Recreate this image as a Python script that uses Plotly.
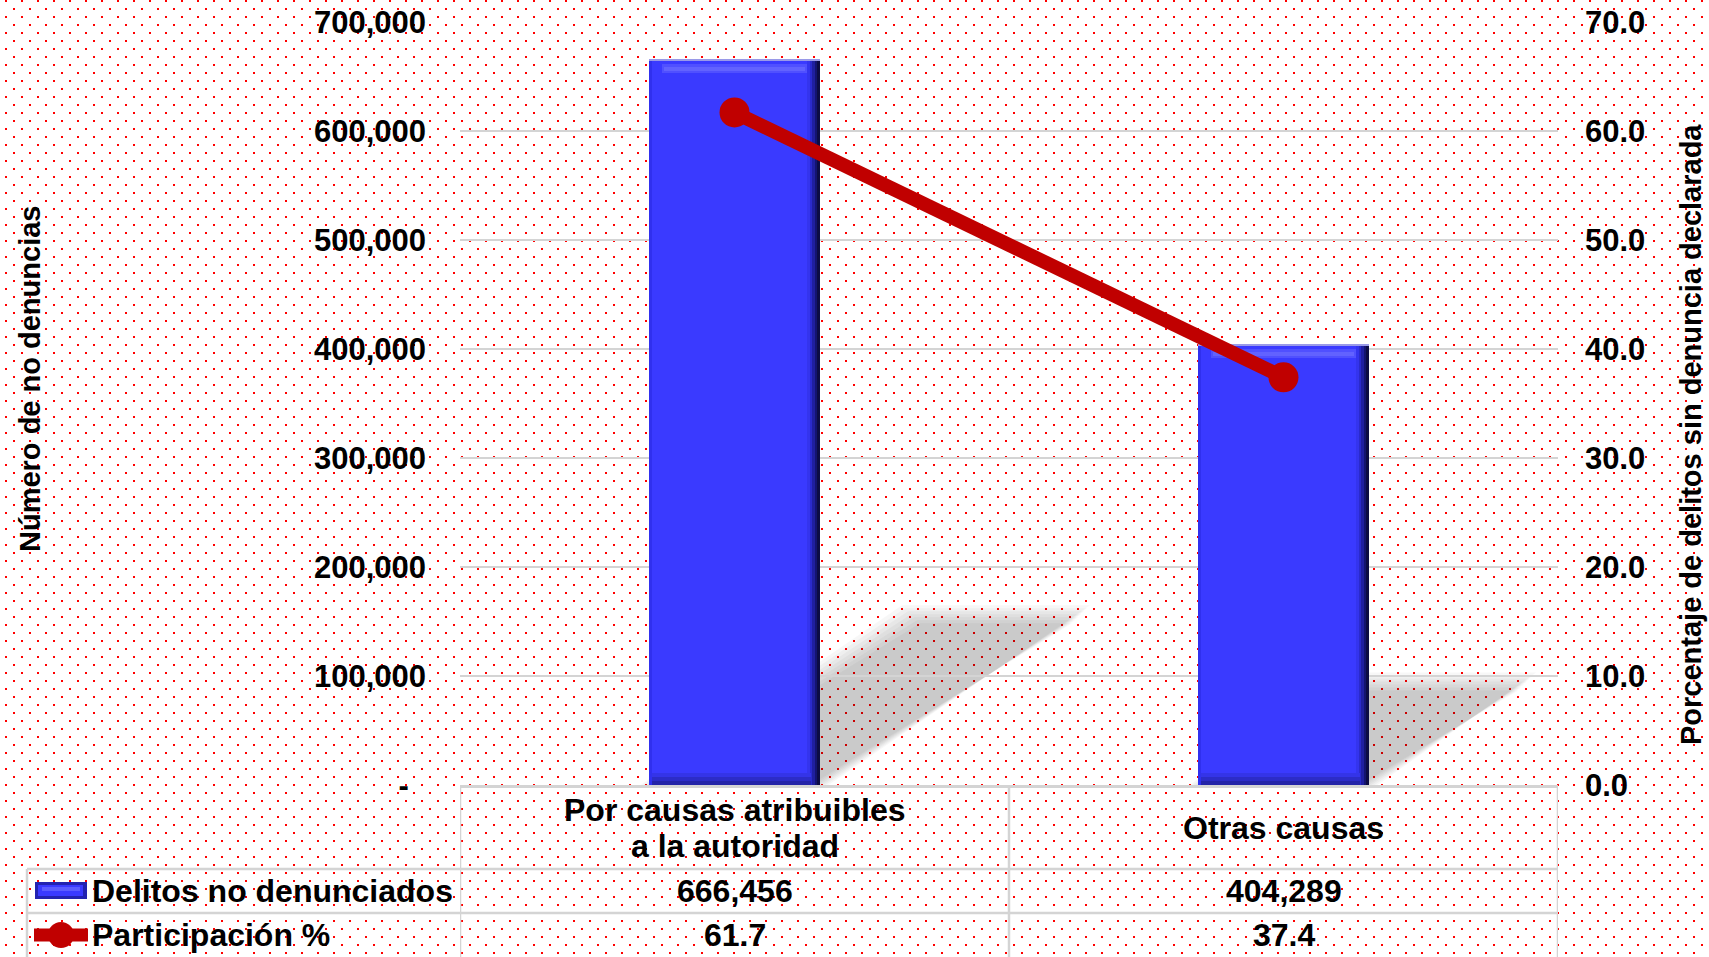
import base64
import plotly.graph_objects as go

# ---------------- data ----------------
categories = ["Por causas atribuibles<br>a la autoridad", "Otras causas"]
delitos = [666456, 404289]
participacion = [61.7, 37.4]
left_tickvals = [0, 100000, 200000, 300000, 400000, 500000, 600000, 700000]
left_ticktext = ["-\u00a0\u00a0", "100,000", "200,000", "300,000", "400,000", "500,000", "600,000", "700,000"]
right_tickvals = [0, 10, 20, 30, 40, 50, 60, 70]
right_ticktext = ["0.0", "10.0", "20.0", "30.0", "40.0", "50.0", "60.0", "70.0"]
series_names = ["Delitos no denunciados", "Participación %"]
y_title_left = "Número de no denuncias"
y_title_right = "Porcentaje de delitos sin denuncia declarada"

# ---------------- layout geometry ----------------
W, H = 1709, 957
ML, MR, MT, MB = 460, 151, 22, 172
PW, PH = W - ML - MR, H - MT - MB
YMAX, Y2MAX = 700000, 70
XR = (-0.5, 1.5)
FONT = "Liberation Sans"

def px(xpix):  # figure pixel -> paper x
    return (xpix - ML) / PW

def py(ypix):  # figure pixel -> paper y
    return (MT + PH - ypix) / PH

def dx(p):  # pixel length -> x data units
    return p * (XR[1] - XR[0]) / PW

def dy(p):  # pixel length -> y data units
    return p * YMAX / PH

xs = list(range(len(categories)))
BW = 0.31

fig = go.Figure()

# main bars
fig.add_trace(go.Bar(x=xs, y=delitos, width=BW, marker=dict(color="#3a3aff", line=dict(width=0)),
                     showlegend=False, hoverinfo="skip"))
# bevel: left edge
fig.add_trace(go.Bar(x=xs, y=delitos, width=dx(3), offset=-BW / 2,
                     marker=dict(color="#3030ee", line=dict(width=0)), showlegend=False, hoverinfo="skip"))
# bevel: right edge gradient
for k, c in enumerate(["#3434ee", "#2a2acc", "#1f1fa0", "#141470", "#0c0c44"]):
    fig.add_trace(go.Bar(x=xs, y=delitos, width=dx(2.5), offset=BW / 2 - dx(2.5) * (5 - k),
                         marker=dict(color=c, line=dict(width=0)), showlegend=False, hoverinfo="skip"))
# bevel: bottom gradient
for k, c in enumerate(["#3434e8", "#2c2cc8", "#2424a8"]):
    fig.add_trace(go.Bar(x=xs, y=[dy(4)] * len(xs), base=[dy(4) * (2 - k)] * len(xs), width=BW - dx(12),
                         offset=-BW / 2 + dx(3),
                         marker=dict(color=c, line=dict(width=0)), showlegend=False, hoverinfo="skip"))
# bevel: top light band + outline
fig.add_trace(go.Bar(x=xs, y=[dy(9)] * len(xs), base=[v - dy(14) for v in delitos], width=BW - dx(26),
                     marker=dict(color="#5050ff", line=dict(width=0)), showlegend=False, hoverinfo="skip"))
fig.add_trace(go.Bar(x=xs, y=[dy(4)] * len(xs), base=[v - dy(12) for v in delitos], width=BW - dx(30),
                     marker=dict(color="#6262ff", line=dict(width=0)), showlegend=False, hoverinfo="skip"))
fig.add_trace(go.Bar(x=xs, y=[dy(1.5)] * len(xs), base=[v - dy(1.5) for v in delitos], width=BW,
                     marker=dict(color="#9a9ae8", line=dict(width=0)), showlegend=False, hoverinfo="skip"))

# line series
fig.add_trace(go.Scatter(x=xs, y=participacion, yaxis="y2", mode="lines+markers",
                         line=dict(color="#c00000", width=14),
                         marker=dict(color="#c00000", size=30),
                         showlegend=False, hoverinfo="skip"))

# ---------------- shapes ----------------
shapes = []
# soft shadows of the bars (projected from bar heights)
for i, v in zip(xs, delitos):
    hpx = v * PH / YMAX
    s = dx(0.36 * hpx)
    top = 0.235 * v
    for d in [-9, -6, -3, 0, 3, 6, 9]:
        ddx, ddy = dx(d), dy(d)
        x0 = i - BW / 2 - ddx
        x1 = i + BW / 2 + ddx
        path = (f"M {x0},0 L {x1},0 L {x1 + s},{top + ddy} "
                f"L {x0 + s},{top + ddy} Z")
        shapes.append(dict(type="path", path=path, xref="x", yref="y", layer="below",
                           fillcolor="rgba(0,0,0,0.03)", line=dict(width=0)))

GRID = "#d4d4d4"
# table vertical lines
for xv in [-0.5, 0.5, 1.5]:
    shapes.append(dict(type="line", xref="x", yref="paper", x0=xv, x1=xv, y0=0, y1=py(H + 5),
                       line=dict(color=GRID, width=2.5), layer="above"))
shapes.append(dict(type="line", xref="paper", yref="paper", x0=px(27), x1=px(27), y0=py(869), y1=py(H + 5),
                   line=dict(color=GRID, width=2.5), layer="above"))
for yv in [869, 913]:
    shapes.append(dict(type="line", xref="paper", yref="paper", x0=px(27), x1=1, y0=py(yv), y1=py(yv),
                       line=dict(color=GRID, width=2.5), layer="above"))

# legend keys
shapes.append(dict(type="rect", xref="paper", yref="paper", x0=px(35), x1=px(87), y0=py(899), y1=py(882),
                   fillcolor="#2323b0", line=dict(width=0), layer="above"))
shapes.append(dict(type="rect", xref="paper", yref="paper", x0=px(38), x1=px(83), y0=py(896), y1=py(885),
                   fillcolor="#3a3aff", line=dict(width=0), layer="above"))
shapes.append(dict(type="rect", xref="paper", yref="paper", x0=px(42), x1=px(80), y0=py(891), y1=py(887),
                   fillcolor="#5c5cff", line=dict(width=0), layer="above"))
shapes.append(dict(type="line", xref="paper", yref="paper", x0=px(34), x1=px(88), y0=py(935), y1=py(935),
                   line=dict(color="#c00000", width=13), layer="above"))
shapes.append(dict(type="circle", xref="paper", yref="paper", x0=px(48), x1=px(74), y0=py(948), y1=py(922),
                   fillcolor="#c00000", line=dict(width=0), layer="above"))

# ---------------- annotations ----------------
title_font = dict(family=FONT, size=29, color="black", weight="bold")
cell_font = dict(family=FONT, size=32, color="black", weight="bold")
ann = []
ann.append(dict(text=y_title_left, xref="paper", yref="paper", x=px(30), y=py(379), textangle=-90,
                showarrow=False, font=title_font, xanchor="center", yanchor="middle"))
ann.append(dict(text=y_title_right, xref="paper", yref="paper", x=px(1691), y=py(435), textangle=-90,
                showarrow=False, font=title_font, xanchor="center", yanchor="middle"))
for i, cat in enumerate(categories):
    lines = cat.split("<br>")
    n = len(lines)
    for j, ln in enumerate(lines):
        yc = 828 + (j - (n - 1) / 2) * 36
        ann.append(dict(text=ln, xref="x", yref="paper", x=xs[i], y=py(yc), showarrow=False,
                        font=cell_font, xanchor="center", yanchor="middle"))
    ann.append(dict(text=f"{delitos[i]:,}", xref="x", yref="paper", x=xs[i], y=py(891), showarrow=False,
                    font=cell_font, xanchor="center", yanchor="middle"))
    ann.append(dict(text=f"{participacion[i]:.1f}", xref="x", yref="paper", x=xs[i], y=py(935),
                    showarrow=False, font=cell_font, xanchor="center", yanchor="middle"))
ann.append(dict(text=series_names[0], xref="paper", yref="paper", x=px(90), y=py(891), showarrow=False,
                font=cell_font, xanchor="left", yanchor="middle"))
ann.append(dict(text=series_names[1], xref="paper", yref="paper", x=px(90), y=py(935), showarrow=False,
                font=cell_font, xanchor="left", yanchor="middle"))

# ---------------- background dot pattern ----------------
svg = (f'<svg xmlns="http://www.w3.org/2000/svg" width="{W}" height="{H}">'
       '<defs><pattern id="p" width="16" height="16" patternUnits="userSpaceOnUse">'
       '<rect x="5" y="0" width="2" height="2" fill="#ff0000"/>'
       '<rect x="13" y="8" width="2" height="2" fill="#ff0000"/>'
       '</pattern></defs>'
       '<rect width="100%" height="100%" fill="#ffffff"/>'
       '<rect width="100%" height="100%" fill="url(#p)"/></svg>')
src = "data:image/svg+xml;base64," + base64.b64encode(svg.encode()).decode()

tickfont = dict(family=FONT, size=31, color="black", weight="bold")
fig.update_layout(
    width=W, height=H,
    margin=dict(l=ML, r=MR, t=MT, b=MB, autoexpand=False),
    paper_bgcolor="white", plot_bgcolor="rgba(0,0,0,0)",
    barmode="overlay", bargap=0,
    showlegend=False,
    xaxis=dict(range=list(XR), showticklabels=False, showgrid=False, zeroline=False,
               showline=True, linecolor=GRID, linewidth=2.5, fixedrange=True),
    yaxis=dict(range=[0, YMAX], tickvals=left_tickvals, ticktext=left_ticktext, tickfont=tickfont,
               showgrid=True, gridcolor=GRID, gridwidth=2, zeroline=False, showline=False,
               ticks="", ticklabelstandoff=33),
    yaxis2=dict(range=[0, Y2MAX], overlaying="y", side="right", tickvals=right_tickvals,
                ticktext=right_ticktext, tickfont=tickfont, showgrid=False, zeroline=False,
                showline=False, ticks="", ticklabelstandoff=26),
    shapes=shapes,
    annotations=ann,
    images=[dict(source=src, xref="paper", yref="paper", x=px(0), y=py(0), sizex=W / PW, sizey=H / PH,
                 xanchor="left", yanchor="top", sizing="stretch", layer="below")],
)

fig.write_html("out.html", config={"displayModeBar": False},
               post_script="document.body.style.margin='0';document.body.style.overflow='hidden';")
